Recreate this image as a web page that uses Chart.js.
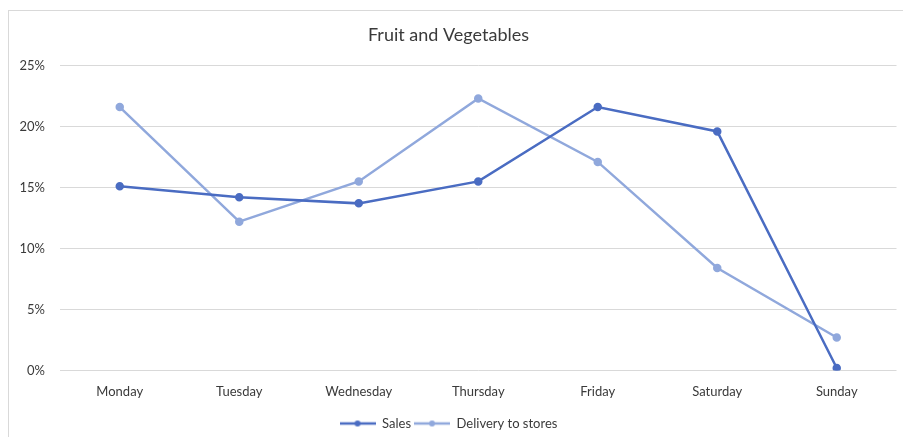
<!DOCTYPE html>
<html>
<head>
<meta charset="utf-8">
<script src="https://cdn.jsdelivr.net/npm/chart.js@4"></script>
<style>
  body { margin: 0; background: #fff; overflow: hidden; }
  #frame { position: absolute; left: 8px; top: 10px; width: 1000px; height: 1000px;
           border-left: 1px solid #d9d9d9; border-top: 1px solid #d9d9d9; }
  #wrap { position: absolute; left: 0; top: 0; width: 903px; height: 440px; }
</style>
</head>
<body>
<div id="frame"></div>
<div id="wrap"><canvas id="myChart"></canvas></div>
<script>
const days = ['Monday', 'Tuesday', 'Wednesday', 'Thursday', 'Friday', 'Saturday', 'Sunday']
const sales = [15.1, 14.2, 13.7, 15.5, 21.6, 19.6, 0.2]
const delivery = [21.6, 12.2, 15.5, 22.3, 17.1, 8.4, 2.7]
const yTicks = [0, 5, 10, 15, 20, 25]

const salesColor = '#4a6cc2'
const deliveryColor = '#90a8dc'
const textColor = '#3a3a3a'

// little line-with-dot marker like the office legend
function legendMark(color) {
    const c = document.createElement('canvas')
    c.width = 36
    c.height = 8
    const g = c.getContext('2d')
    g.strokeStyle = color
    g.lineWidth = 2.5
    g.beginPath()
    g.moveTo(0, 4)
    g.lineTo(36, 4)
    g.stroke()
    g.fillStyle = color
    g.beginPath()
    g.arc(18, 4, 3, 0, Math.PI * 2)
    g.fill()
    return c
}

const ctx = document.getElementById('myChart')

new Chart(ctx, {
    type: 'line',
    data: {
        labels: days,
        datasets: [{
            label: 'Sales',
            data: sales,
            borderColor: salesColor,
            backgroundColor: salesColor,
            borderWidth: 2.5,
            pointRadius: 3,
            tension: 0
        }, {
            label: 'Delivery to stores',
            data: delivery,
            borderColor: deliveryColor,
            backgroundColor: deliveryColor,
            borderWidth: 2.5,
            pointRadius: 3,
            tension: 0
        }]
    },
    options: {
        responsive: true,
        maintainAspectRatio: false,
        animation: false,
        layout: { padding: { top: 10, right: 6, bottom: 0, left: 0 } },
        plugins: {
            title: {
                display: true,
                text: 'Fruit and Vegetables',
                color: textColor,
                font: { family: 'Lato', size: 18, weight: 'normal' },
                padding: { top: 14, bottom: 20 }
            },
            legend: {
                position: 'bottom',
                labels: {
                    usePointStyle: true,
                    pointStyleWidth: 36,
                    color: textColor,
                    font: { family: 'Lato', size: 13 },
                    padding: 3,
                    generateLabels: chart => chart.data.datasets.map((ds, i) => ({
                        text: ds.label,
                        pointStyle: legendMark(ds.borderColor),
                        fillStyle: ds.borderColor,
                        strokeStyle: ds.borderColor,
                        lineWidth: 0,
                        fontColor: textColor,
                        datasetIndex: i
                    }))
                }
            },
            tooltip: { enabled: false }
        },
        scales: {
            x: {
                offset: true,
                grid: { display: false, drawTicks: false },
                border: { display: false },
                ticks: {
                    color: textColor,
                    font: { family: 'Lato', size: 13 },
                    padding: 14,
                    maxRotation: 0
                }
            },
            y: {
                min: 0,
                max: 25,
                afterFit: scale => { scale.width = 60 },
                afterBuildTicks: scale => { scale.ticks = yTicks.map(v => ({ value: v })) },
                grid: { color: '#d9d9d9', drawTicks: false },
                border: { display: false },
                ticks: {
                    color: textColor,
                    font: { family: 'Lato', size: 13 },
                    padding: 15,
                    callback: v => v + '%'
                }
            }
        }
    }
})
</script>
</body>
</html>
